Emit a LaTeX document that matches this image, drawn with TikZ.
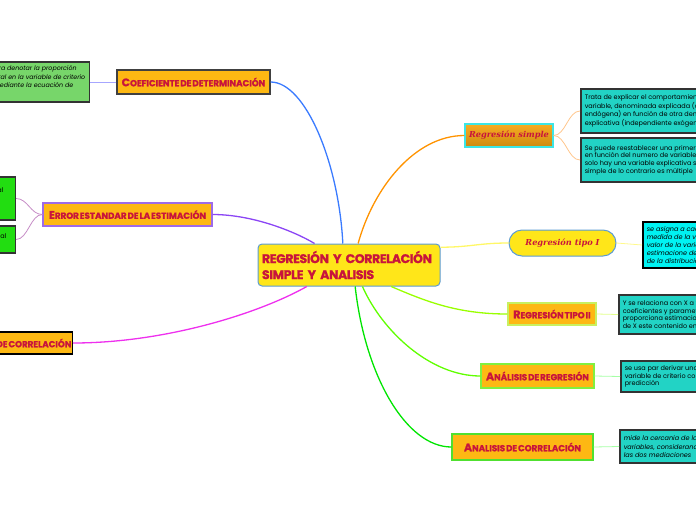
\documentclass[tikz,border=0pt]{standalone}
\usepackage{fontspec}
\setmainfont{Poppins}
\newfontfamily\titlefont{Poppins}[LetterSpace=-3, WordSpace=0.4, BoldFeatures={FakeBold=1.2}]
\newfontfamily\topicfont{Poppins}[LetterSpace=-0.5, WordSpace=0.5, BoldFeatures={FakeBold=1}]
\newfontfamily\slabfont{DejaVu Serif}
\usetikzlibrary{positioning}

\definecolor{crimson}{HTML}{C8143C}
\definecolor{topicorange}{HTML}{FDB813}
\definecolor{mainyellow}{HTML}{FFE619}
\definecolor{edgeblue}{HTML}{5B9BD5}
\definecolor{turq}{HTML}{22D3C5}
\definecolor{cyanbox}{HTML}{00F2F2}
\definecolor{leafgreen}{HTML}{77D66A}
\definecolor{brightgreen}{HTML}{22DD11}
\newcommand\tcap[1]{{\fontsize{11}{10}\selectfont #1}}

\begin{document}
\begin{tikzpicture}[x=1pt, y=-1pt,
  mainbox/.style={draw=edgeblue, line width=1pt, fill=mainyellow, rounded corners=4pt,
                  text width=174pt, inner sep=4pt, minimum height=42pt, align=left,
                  text=crimson, font=\titlefont\bfseries\fontsize{12.5}{16}\selectfont},
  topic/.style={draw=black!75, line width=1.2pt, fill=topicorange, text=crimson,
                inner sep=1pt, font=\topicfont\bfseries\fontsize{8.8}{8}\selectfont},
  slab/.style={text=crimson, font=\slabfont\bfseries\itshape\fontsize{8.2}{9}\selectfont},
  leaf/.style={draw=black!80, line width=1.5pt, fill=turq, align=left, inner sep=4pt,
               font=\fontsize{6.5}{7.6}\selectfont},
  ileaf/.style={leaf, font=\itshape\fontsize{6.5}{8.2}\selectfont},
  conn/.style={line width=1.3pt},
  sub/.style={line width=0.8pt},
]
\useasboundingbox (0,0) rectangle (696,520);
\clip (0,0) rectangle (696,520);

% ---- central topic ----
\node[mainbox] (main) at (349,265) {REGRESIÓN Y CORRELACIÓN\\SIMPLE Y ANALISIS};

% ---- left side ----
\node[topic, minimum width=153pt, minimum height=24pt] (detnode) at (193.5,82)
  {\tcap{C}OEFICIENTE DE DETERMINACIÓN};
\node[topic, draw={rgb,255:red,157;green,107;blue,232}, minimum width=169pt, minimum height=23pt] (errnode) at (127.5,214.5)
  {\tcap{E}RROR ESTANDAR DE LA ESTIMACIÓN};
\node[topic, draw=black, anchor=east, minimum height=22pt] (corrnode) at (73,343)
  {\tcap{C}OEFICIENTE DE CORRELACIÓN};

\node[ileaf, fill=leafgreen, anchor=east, minimum height=40pt, font=\itshape\fontsize{6.3}{8.6}\selectfont]
  (detleaf) at (90,82)
  {Se utiliza para denotar la proporción\\variación total en la variable de criterio\\explicada mediante la ecuación de\\regresión};
\node[leaf, fill=brightgreen, anchor=east, minimum height=43pt, text width=118pt] (errleafa) at (16,198.5)
  {\hfill Mide la dispersión del valor real\kern8pt\\de Y alrededor de la\\recta de regresión};
\node[leaf, fill=brightgreen, anchor=east, minimum height=27pt, text width=96pt] (errleafb) at (16,239.5)
  {\hfill Error típico del valor real\kern5pt\\de la estimación};

% ---- right side ----
\node[slab, draw={rgb,255:red,60;green,230;blue,230}, line width=1.2pt,
      top color={rgb,255:red,249;green,172;blue,34}, bottom color={rgb,255:red,204;green,138;blue,16},
      minimum width=88pt, minimum height=23pt, inner sep=2pt] (regsimple) at (509,135.5) {Regresión simple};
\node[slab, draw=edgeblue, line width=1pt, fill=mainyellow, rounded corners=13pt,
      minimum width=107pt, minimum height=26pt] (tipoI) at (562.5,243) {Regresión tipo I};
\node[topic, draw={rgb,255:red,200;green,240;blue,96}, minimum width=88pt, minimum height=22pt] (tipoII) at (552,314)
  {\tcap{R}EGRESIÓN TIPO II};
\node[topic, draw={rgb,255:red,128;green,240;blue,64}, minimum width=113pt, minimum height=24pt] (analreg) at (537.5,376)
  {\tcap{A}NÁLISIS DE REGRESIÓN};
\node[topic, draw={rgb,255:red,80;green,224;blue,48}, minimum width=141pt, minimum height=26pt] (analcorr) at (522.5,447)
  {\tcap{A}NALISIS DE CORRELACIÓN};

\node[leaf, anchor=west, minimum height=44pt] (simplea) at (580,111)
  {Trata de explicar el comportamiento de una\\variable, denominada explicada (dependiente o\\endógena) en función de otra denominada\\explicativa (independiente exógena)};
\node[leaf, anchor=west, minimum height=44pt] (simpleb) at (580,160)
  {Se puede reestablecer una primera clasificación\\en función del numero de variables explicativas, si\\solo hay una variable explicativa se dice que es\\simple de lo contrario es múltiple};
\node[ileaf, fill=cyanbox, draw=black, anchor=west, minimum height=46pt] (tipoIleaf) at (642,245)
  {se asigna a cada unidad de\\medida de la variable X un\\valor de la variable Y, las\\estimacione de la media\\de la distribución};
\node[leaf, anchor=west, minimum height=39pt] (tipoIIleaf) at (618,314.5)
  {Y se relaciona con X a través de\\coeficientes y parametros que\\proporciona estimaciones de Y\\de X este contenido en la ecuación};
\node[leaf, anchor=west, minimum height=31pt] (analregleaf) at (620,376.5)
  {se usa par derivar una ecuación que relaciona la\\variable de criterio con las variables de\\predicción};
\node[ileaf, anchor=west, minimum height=33pt] (analcorrleaf) at (619,446.5)
  {mide la cercania de la relación entre dos\\variables, considerando la relación entre\\las dos mediaciones};

% ---- connectors from the centre ----
\draw[conn, draw={rgb,255:red,58;green,123;blue,255}] (main.106) .. controls +(-4,-80) and +(35,0) .. (detnode.east);
\draw[conn, draw={rgb,255:red,139;green,69;blue,245}] (main.148) .. controls +(-20,-12) and +(40,0) .. (errnode.east);
\draw[conn, draw={rgb,255:red,238;green,48;blue,238}] (main.207) .. controls +(-50,28) and +(90,0) .. (corrnode.east);
\draw[conn, draw=orange!85!yellow] (main.67) .. controls +(15,-55) and +(-50,0) .. (regsimple.west);
\draw[conn, draw=yellow!60] (main.11) .. controls +(30,0) and +(-30,0) .. (tipoI.west);
\draw[conn, draw=lime!80!green] (main.333) .. controls +(35,15) and +(-50,0) .. (tipoII.west);
\draw[conn, draw=green!50!lime] (main.302) .. controls +(20,45) and +(-50,0) .. (analreg.west);
\draw[conn, draw=green!90!black] (main.286) .. controls +(10,90) and +(-45,0) .. (analcorr.west);

% ---- connectors to the leaves ----
\draw[sub, draw=blue!35] (detnode.west) -- (detleaf.east);
\draw[sub, draw=violet!45] (errnode.west) .. controls +(-12,0) and +(12,0) .. (errleafa.east);
\draw[sub, draw=violet!45] (errnode.west) .. controls +(-12,0) and +(12,0) .. (errleafb.east);
\draw[sub, draw=orange!45] (regsimple.east) .. controls +(12,0) and +(-12,0) .. (simplea.west);
\draw[sub, draw=orange!45] (regsimple.east) .. controls +(12,0) and +(-12,0) .. (simpleb.west);
\draw[sub, draw=yellow!45] (tipoI.east) -- (tipoIleaf.west);
\draw[sub, draw=lime!45] (tipoII.east) -- (tipoIIleaf.west);
\draw[sub, draw=green!35] (analreg.east) -- (analregleaf.west);
\draw[sub, draw=green!35] (analcorr.east) -- (analcorrleaf.west);
\end{tikzpicture}
\end{document}
